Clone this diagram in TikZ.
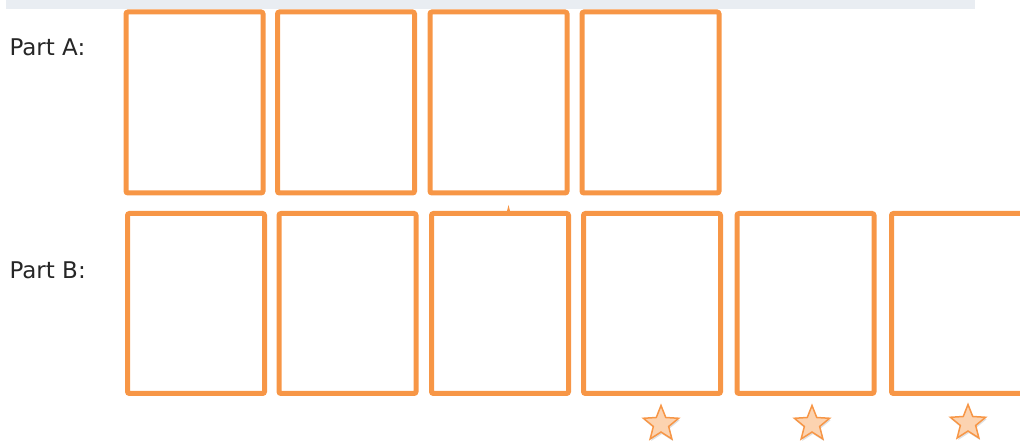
\documentclass[tikz,border=0pt]{standalone}
\usepackage{fontspec}
\setmainfont{DejaVu Sans}
\usetikzlibrary{shapes.geometric,shadows}
\definecolor{boxorange}{HTML}{F79646}
\definecolor{starfill}{HTML}{FCD3B0}
\definecolor{bandgray}{HTML}{E9EDF2}
\tikzset{
  cardbox/.style={draw=boxorange, line width=5pt, rounded corners=2pt, rectangle, minimum width=137pt, minimum height=181pt, inner sep=0pt},
  partlabel/.style={anchor=west, font=\fontsize{23}{26}\selectfont, text=black!85},
  starmark/.style={star, star points=5, star point ratio=2.3, minimum size=37pt, inner sep=0pt, fill=starfill, draw=boxorange, line width=1.5pt, drop shadow={opacity=0.25, shadow xshift=1pt, shadow yshift=-2pt}}
}
\begin{document}
\begin{tikzpicture}[x=1pt, y=-1pt]
        \useasboundingbox (0,0) rectangle (1020,443);
        \clip (0,0) rectangle (1020,443);
        % Band at top
        \fill[bandgray] (6,0) rectangle (975,9);
        
        % Part A
        \node[partlabel] (lblA) at (6,47) {Part A:};
        \node[cardbox] (a1) at (194.5,102.5) {};
        \node[cardbox] (a2) at (346,102.5) {};
        \node[cardbox] (a3) at (498.5,102.5) {};
        \node[cardbox] (a4) at (650.5,102.5) {};
        
        % Part B
        \node[partlabel] (lblB) at (6,270) {Part B:};
        \node[cardbox, minimum height=180pt] (b1) at (196,303.5) {};
        \node[cardbox, minimum height=180pt] (b2) at (347.5,303.5) {};
        \node[cardbox, minimum height=180pt] (b3) at (500,303.5) {};
        \node[cardbox, minimum height=180pt] (b4) at (652,303.5) {};
        \node[cardbox, minimum height=180pt] (b5) at (805.5,303.5) {};
        \node[cardbox, minimum height=180pt] (b6) at (960,303.5) {};
        \fill[boxorange] (507,211) -- (508.5,205) -- (510,211) -- cycle;
        
        % Stars under the last cards
        \node[starmark] (s1) at (661,424) {};
        \node[starmark] (s2) at (812,424) {};
        \node[starmark] (s3) at (968,423) {};
    \end{tikzpicture}
\end{document}
